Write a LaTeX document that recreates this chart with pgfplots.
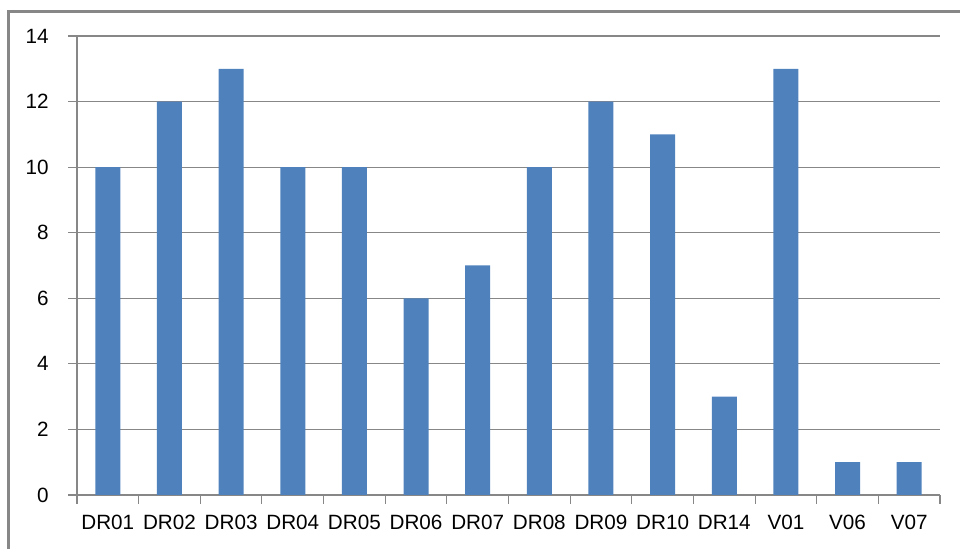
\documentclass[border=0pt]{standalone}
\usepackage{pgfplots}
\pgfplotsset{compat=1.18}
\usepackage{fontspec}
\setmainfont{Liberation Sans}
\definecolor{barblue}{HTML}{4F81BD}
\definecolor{gridgray}{HTML}{878787}
\begin{document}
\begin{tikzpicture}
\useasboundingbox (0pt,0pt) rectangle (720pt,411.75pt);
\draw[gridgray, line width=2.25pt] (6pt,-10pt) -- (6pt,402.75pt) -- (730pt,402.75pt);
\begin{axis}[
  at={(57.75pt,40.5pt)}, anchor=south west,
  scale only axis, width=647.25pt, height=344.25pt,
  ymin=0, ymax=14, ytick={0,2,...,14},
  xmin=-0.5, xmax=13.5,
  xtick={-0.5,0.5,...,13.5},
  x tick label as interval,
  xticklabels={DR01,DR02,DR03,DR04,DR05,DR06,DR07,DR08,DR09,DR10,DR14,V01,V06,V07},
  ymajorgrids, grid style={gridgray, line width=0.8pt},
  axis x line*=bottom, axis y line*=left,
  axis line style={gridgray, line width=0.8pt, -},
  tick align=outside,
  tick style={gridgray, line width=0.8pt},
  major tick length=6.75pt,
  tick label style={font=\fontsize{15.5pt}{17pt}\selectfont, black},
  yticklabel style={xshift=-11pt},
  xticklabel style={yshift=-5pt},
  /pgf/number format/assume math mode=true,
  ybar, bar width=18.75pt,
]
\addplot[fill=barblue, draw=none] coordinates {
(0,10) (1,12) (2,13) (3,10) (4,10) (5,6) (6,7) (7,10) (8,12) (9,11) (10,3) (11,13) (12,1) (13,1)};
\end{axis}
\end{tikzpicture}
\end{document}
